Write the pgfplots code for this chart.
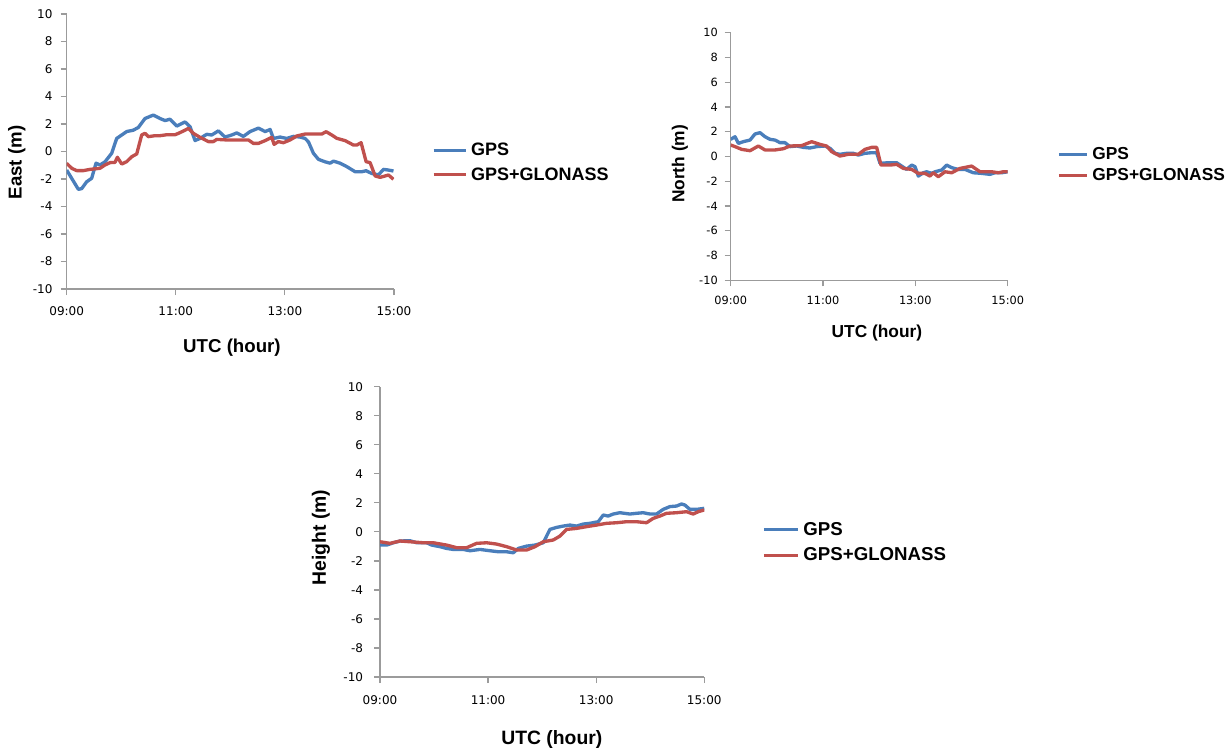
\documentclass[border=0pt]{standalone}
\usepackage{fontspec}
\setmainfont{Liberation Sans}
\newfontfamily\tickfont{DejaVu Sans}
\usepackage{pgfplots}
\pgfplotsset{compat=1.18}
\definecolor{gpsblue}{RGB}{74,126,187}
\definecolor{glored}{RGB}{192,80,77}
\definecolor{axgray}{RGB}{155,155,155}

\pgfplotsset{
  utcplot/.style={
    scale only axis, anchor=south west,
    axis lines=left, axis line style={draw=axgray, line width=0.9pt, -},
    xmin=9, xmax=15, ymin=-10, ymax=10,
    xtick={9,11,13,15}, xticklabels={09:00,11:00,13:00,15:00},
    ytick={-10,-8,...,10},
    tick align=outside, major tick length=4.5pt,
    tick style={draw=axgray, line width=0.9pt},
    /pgf/number format/assume math mode=true,
    xticklabel style={inner sep=0pt, anchor=north},
    yticklabel style={inner sep=0pt, anchor=east},
    xlabel={UTC (hour)},
    every axis x label/.style={anchor=center},
    every axis y label/.style={anchor=center, rotate=90},
    legend cell align=left,
    legend style={draw=none, fill=none, inner sep=0pt, anchor=west,
      nodes={inner sep=0pt}, column sep=3pt},
  },
  legimg/.style={legend image code/.code={\draw[##1, line width=2.4pt] (0pt,0pt) -- (#1,0pt);}},
  gps/.style={gpsblue, line width=2.5pt, line join=round},
  glo/.style={glored, line width=2.5pt, line join=round},
}

\begin{document}
\begin{tikzpicture}
\path[use as bounding box] (0,0) rectangle (919.5pt,563.25pt);

% East
\begin{axis}[utcplot, at={(50.0pt,346.5pt)}, width=245.5pt, height=206.25pt,
  ticklabel style={font=\tickfont\fontsize{9}{10}\selectfont},
  xticklabel shift=8.2pt, yticklabel shift=6pt,
  label style={font=\fontsize{14}{16}\selectfont\bfseries},
  ylabel={East (m)},
  xlabel style={at={(axis description cs:0.505,-0.2145)}},
  ylabel style={at={(axis description cs:-0.152,0.46)}},
  legimg=24pt,
  legend style={at={(1.115,0.46)}, row sep=7.5pt, font=\fontsize{13.5}{15}\selectfont\bfseries},
]
\addplot[gps] coordinates {
(9.000,-1.35) (9.214,-2.75) (9.275,-2.70) (9.367,-2.20) (9.458,-1.95) (9.538,-0.85)
(9.611,-0.98) (9.703,-0.75) (9.825,-0.13) (9.917,0.95) (10.009,1.20) (10.100,1.45)
(10.222,1.55) (10.314,1.75) (10.436,2.40) (10.589,2.65) (10.711,2.40) (10.803,2.25)
(10.895,2.35) (11.017,1.85) (11.170,2.15) (11.262,1.80) (11.353,0.80) (11.445,0.95)
(11.567,1.25) (11.659,1.20) (11.781,1.50) (11.903,1.05) (12.026,1.20) (12.117,1.35)
(12.240,1.10) (12.362,1.45) (12.515,1.70) (12.637,1.45) (12.729,1.60) (12.790,0.95)
(12.912,1.05) (13.034,0.95) (13.157,1.10) (13.279,1.05) (13.370,0.95) (13.432,0.70)
(13.523,-0.13) (13.615,-0.57) (13.737,-0.75) (13.829,-0.85) (13.890,-0.70) (14.012,-0.85)
(14.134,-1.10) (14.287,-1.47) (14.410,-1.47) (14.489,-1.40) (14.593,-1.60) (14.715,-1.70)
(14.807,-1.30) (14.899,-1.35) (14.990,-1.42)
};
\addlegendentry{GPS}
\addplot[glo] coordinates {
(9.000,-0.86) (9.092,-1.22) (9.183,-1.39) (9.306,-1.39) (9.428,-1.30) (9.611,-1.22)
(9.703,-0.98) (9.795,-0.81) (9.886,-0.79) (9.929,-0.42) (10.009,-0.91) (10.100,-0.74)
(10.192,-0.38) (10.284,-0.18) (10.375,1.20) (10.436,1.32) (10.498,1.08) (10.620,1.15)
(10.711,1.15) (10.834,1.22) (10.987,1.22) (11.048,1.32) (11.139,1.49) (11.231,1.68)
(11.323,1.32) (11.445,1.03) (11.598,0.72) (11.690,0.72) (11.751,0.88) (11.934,0.84)
(12.178,0.84) (12.331,0.84) (12.423,0.59) (12.515,0.59) (12.637,0.79) (12.759,1.03)
(12.802,0.52) (12.881,0.72) (12.973,0.64) (13.095,0.84) (13.218,1.13) (13.370,1.27)
(13.523,1.27) (13.676,1.27) (13.756,1.44) (13.859,1.20) (13.951,0.96) (14.104,0.79)
(14.257,0.47) (14.318,0.47) (14.397,0.64) (14.489,-0.74) (14.562,-0.81) (14.654,-1.78)
(14.746,-1.88) (14.837,-1.78) (14.899,-1.71) (14.990,-2.02)
};
\addlegendentry{GPS+GLONASS}
\end{axis}

% North
\begin{axis}[utcplot, at={(548.0pt,353.0pt)}, width=207.75pt, height=185.7pt,
  ticklabel style={font=\tickfont\fontsize{8.5}{10}\selectfont},
  xticklabel shift=6.9pt, yticklabel shift=5pt,
  label style={font=\fontsize{13}{15}\selectfont\bfseries},
  ylabel={North (m)},
  xlabel style={at={(axis description cs:0.528,-0.213)}},
  ylabel style={at={(axis description cs:-0.183,0.47)}},
  legimg=21pt,
  legend style={at={(1.178,0.466)}, row sep=5.5pt, font=\fontsize{13}{15}\selectfont\bfseries},
]
\addplot[gps] coordinates {
(9.000,1.39) (9.094,1.60) (9.166,1.06) (9.274,1.20) (9.419,1.33) (9.527,1.82)
(9.635,1.93) (9.744,1.60) (9.852,1.39) (9.960,1.33) (10.069,1.12) (10.177,1.12)
(10.285,0.80) (10.430,0.85) (10.574,0.74) (10.718,0.69) (10.863,0.80) (11.043,0.85)
(11.152,0.66) (11.260,0.26) (11.368,0.18) (11.513,0.26) (11.657,0.26) (11.765,0.12)
(11.910,0.26) (12.054,0.31) (12.162,0.31) (12.235,-0.55) (12.415,-0.50) (12.596,-0.50)
(12.704,-0.77) (12.812,-1.04) (12.921,-0.69) (12.993,-0.82) (13.065,-1.58) (13.173,-1.31)
(13.245,-1.23) (13.354,-1.36) (13.426,-1.23) (13.570,-1.09) (13.679,-0.69) (13.787,-0.90)
(13.931,-1.04) (14.076,-1.04) (14.256,-1.31) (14.437,-1.36) (14.617,-1.44) (14.726,-1.31)
(14.870,-1.31) (15.000,-1.23)
};
\addlegendentry{GPS}
\addplot[glo] coordinates {
(9.000,0.93) (9.094,0.80) (9.238,0.58) (9.419,0.47) (9.599,0.85) (9.744,0.53)
(9.960,0.53) (10.141,0.63) (10.285,0.85) (10.538,0.88) (10.755,1.20) (10.935,0.98)
(11.079,0.85) (11.188,0.39) (11.368,0.04) (11.549,0.18) (11.765,0.18) (11.910,0.58)
(12.054,0.74) (12.162,0.74) (12.256,-0.69) (12.451,-0.69) (12.596,-0.63) (12.740,-0.96)
(12.921,-1.04) (13.065,-1.36) (13.209,-1.36) (13.318,-1.58) (13.390,-1.31) (13.498,-1.63)
(13.643,-1.23) (13.787,-1.31) (13.968,-0.96) (14.220,-0.77) (14.401,-1.23) (14.653,-1.23)
(14.798,-1.31) (14.906,-1.23) (15.000,-1.23)
};
\addlegendentry{GPS+GLONASS}
\end{axis}

% Height
\begin{axis}[utcplot, at={(285.0pt,55.5pt)}, width=243.2pt, height=217.7pt,
  ticklabel style={font=\tickfont\fontsize{9}{10}\selectfont},
  xticklabel shift=8.9pt, yticklabel shift=8pt,
  label style={font=\fontsize{14.5}{16}\selectfont\bfseries},
  ylabel={Height (m)},
  xlabel style={at={(axis description cs:0.53,-0.2136)}},
  ylabel style={at={(axis description cs:-0.182,0.48)}},
  legimg=25.5pt,
  legend style={at={(1.178,0.463)}, row sep=8pt, font=\fontsize{14}{16}\selectfont\bfseries},
]
\addplot[gps] coordinates {
(9.000,-0.91) (9.123,-0.91) (9.247,-0.75) (9.370,-0.63) (9.555,-0.61) (9.678,-0.75)
(9.863,-0.75) (9.956,-0.91) (10.110,-1.02) (10.233,-1.14) (10.356,-1.21) (10.541,-1.21)
(10.665,-1.30) (10.850,-1.21) (11.035,-1.30) (11.189,-1.37) (11.343,-1.37) (11.466,-1.44)
(11.559,-1.14) (11.713,-0.98) (11.867,-0.91) (12.021,-0.75) (12.144,0.17) (12.268,0.31)
(12.391,0.40) (12.514,0.47) (12.637,0.40) (12.761,0.54) (12.884,0.59) (13.038,0.70)
(13.131,1.16) (13.223,1.09) (13.316,1.23) (13.439,1.32) (13.624,1.23) (13.747,1.28)
(13.871,1.32) (13.994,1.23) (14.117,1.23) (14.240,1.55) (14.364,1.74) (14.487,1.78)
(14.580,1.92) (14.641,1.85) (14.734,1.55) (14.857,1.55) (15.000,1.62)
};
\addlegendentry{GPS}
\addplot[glo] coordinates {
(9.000,-0.68) (9.185,-0.79) (9.370,-0.63) (9.555,-0.68) (9.801,-0.75) (9.986,-0.75)
(10.233,-0.91) (10.418,-1.09) (10.603,-1.09) (10.788,-0.79) (10.973,-0.75) (11.158,-0.84)
(11.343,-1.02) (11.528,-1.25) (11.713,-1.25) (11.867,-1.02) (12.021,-0.68) (12.206,-0.56)
(12.329,-0.29) (12.453,0.17) (12.637,0.24) (12.822,0.36) (13.007,0.47) (13.192,0.59)
(13.377,0.63) (13.562,0.70) (13.747,0.70) (13.932,0.63) (14.055,0.93) (14.179,1.09)
(14.302,1.28) (14.487,1.32) (14.672,1.39) (14.795,1.23) (14.888,1.39) (15.000,1.51)
};
\addlegendentry{GPS+GLONASS}
\end{axis}
\end{tikzpicture}
\end{document}
